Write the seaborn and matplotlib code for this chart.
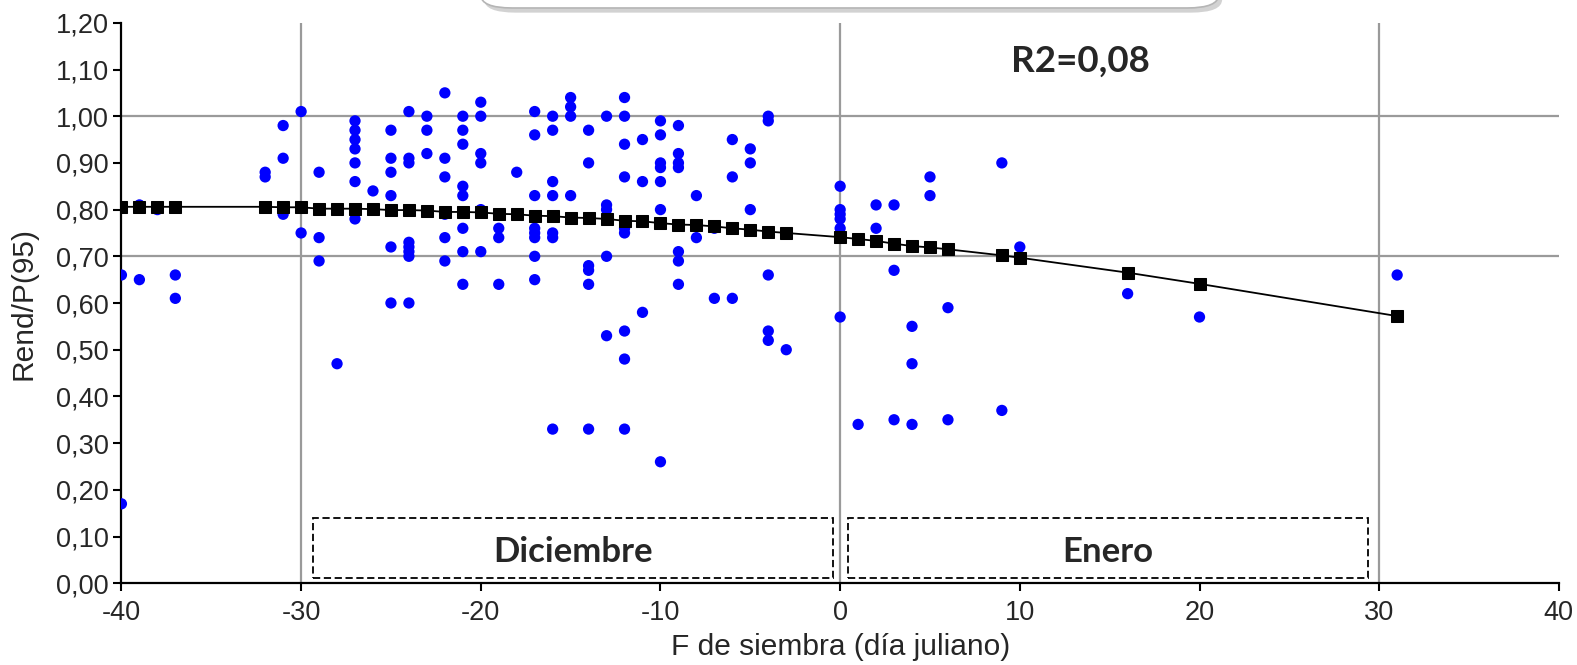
import matplotlib
matplotlib.use("Agg")
import matplotlib.pyplot as plt
import matplotlib.ticker as mticker
from matplotlib.patches import Rectangle, FancyBboxPatch
import seaborn as sns
import pandas as pd

# observed points: sowing day (julian, relative) -> yield / P(95)
obs = {
    -40: [0.66, 0.17],
    -39: [0.81, 0.65],
    -38: [0.80],
    -37: [0.66, 0.61],
    -32: [0.88, 0.87],
    -31: [0.98, 0.91, 0.79],
    -30: [1.01, 0.75],
    -29: [0.88, 0.74, 0.69],
    -28: [0.47],
    -27: [0.99, 0.97, 0.95, 0.93, 0.90, 0.86, 0.78],
    -26: [0.84],
    -25: [0.97, 0.91, 0.88, 0.83, 0.72, 0.60],
    -24: [1.01, 0.91, 0.90, 0.73, 0.72, 0.71, 0.70, 0.60],
    -23: [1.00, 0.97, 0.92],
    -22: [1.05, 0.91, 0.87, 0.79, 0.74, 0.69],
    -21: [1.00, 0.97, 0.94, 0.85, 0.83, 0.76, 0.71, 0.64],
    -20: [1.03, 1.00, 0.92, 0.90, 0.80, 0.71],
    -19: [0.76, 0.74, 0.64],
    -18: [0.88],
    -17: [1.01, 0.96, 0.83, 0.76, 0.75, 0.74, 0.70, 0.65],
    -16: [1.00, 0.97, 0.86, 0.83, 0.75, 0.74, 0.33],
    -15: [1.04, 1.02, 1.00, 0.83],
    -14: [0.97, 0.90, 0.68, 0.67, 0.64, 0.33],
    -13: [1.00, 0.81, 0.80, 0.70, 0.53],
    -12: [1.04, 1.00, 0.94, 0.87, 0.76, 0.75, 0.54, 0.48, 0.33],
    -11: [0.95, 0.86, 0.58],
    -10: [0.99, 0.96, 0.90, 0.89, 0.86, 0.80, 0.26],
    -9: [0.98, 0.92, 0.90, 0.89, 0.71, 0.69, 0.64],
    -8: [0.83, 0.74],
    -7: [0.76, 0.61],
    -6: [0.95, 0.87, 0.61],
    -5: [0.93, 0.90, 0.80],
    -4: [1.00, 0.99, 0.66, 0.54, 0.52],
    -3: [0.50],
    0: [0.85, 0.80, 0.79, 0.78, 0.76, 0.57],
    1: [0.34],
    2: [0.81, 0.76],
    3: [0.81, 0.67, 0.35],
    4: [0.72, 0.55, 0.47, 0.34],
    5: [0.87, 0.83],
    6: [0.59, 0.35],
    9: [0.90, 0.70, 0.37],
    10: [0.72],
    16: [0.62],
    20: [0.57],
    31: [0.66],
}

# fitted curve, read at each sowing day
fit_days = [-40, -39, -38, -37, -32, -31, -30, -29, -28, -27, -26, -25, -24,
            -23, -22, -21, -20, -19, -18, -17, -16, -15, -14, -13, -12, -11,
            -10, -9, -8, -7, -6, -5, -4, -3, 0, 1, 2, 3, 4, 5, 6, 9, 10, 16,
            20, 31]
fit_vals = [0.806, 0.806, 0.806, 0.806, 0.806, 0.805, 0.805, 0.802, 0.802,
            0.802, 0.801, 0.799, 0.799, 0.798, 0.795, 0.795, 0.794, 0.791,
            0.790, 0.787, 0.786, 0.783, 0.782, 0.780, 0.776, 0.775, 0.771,
            0.768, 0.767, 0.764, 0.760, 0.757, 0.753, 0.750, 0.741, 0.737,
            0.733, 0.727, 0.722, 0.719, 0.715, 0.702, 0.697, 0.665, 0.641,
            0.572]

r2_label = "R2=0,08"
months = ["Diciembre", "Enero"]

df_obs = pd.DataFrame([(d, v) for d, vals in obs.items() for v in vals],
                      columns=["dia", "rend"])
df_fit = pd.DataFrame({"dia": fit_days, "rend": fit_vals})

sns.set_style("ticks")
plt.rcParams["font.family"] = ["Liberation Sans", "DejaVu Sans"]
plt.rcParams["axes.unicode_minus"] = False

fig = plt.figure(figsize=(15.77, 6.65), dpi=100)
ax = fig.add_axes([0.0770, 0.123, 0.9115, 0.8427])

for xv in (-30, 0, 30):
    ax.axvline(xv, color="#9a9a9a", lw=1.6, zorder=0)
for yv in (0.70, 1.00):
    ax.axhline(yv, color="#9a9a9a", lw=1.6, zorder=0)

sns.scatterplot(data=df_obs, x="dia", y="rend", ax=ax, color="#0000ff",
                s=66, edgecolor="none", zorder=3)
sns.lineplot(data=df_fit, x="dia", y="rend", ax=ax, color="black", lw=1.3,
             marker="s", markersize=8, markeredgecolor="black", zorder=4)

ax.set_xlim(-40, 40)
ax.set_ylim(0, 1.2)
ax.set_xticks(range(-40, 41, 10))
ax.set_yticks([i / 10 for i in range(13)])
ax.yaxis.set_major_formatter(mticker.FuncFormatter(lambda v, p: f"{v:.2f}".replace(".", ",")))
ax.tick_params(axis="both", labelsize=19.5, length=6, width=1.5, color="black", pad=3)
ax.tick_params(axis="x", pad=6)
for s in ("top", "right"):
    ax.spines[s].set_visible(False)
for s in ("left", "bottom"):
    ax.spines[s].set_linewidth(1.6)
    ax.spines[s].set_color("black")

ax.set_xlabel("F de siembra (día juliano)", fontsize=21.5, labelpad=5)
ax.set_ylabel("Rend/P(95)", fontsize=21.5, labelpad=13)

# month boxes
for (x0, x1), name in zip([(-29.34, -0.4), (0.43, 29.37)], months):
    ax.add_patch(Rectangle((x0, 0.011), x1 - x0, 0.129, fill=False, ls=(0, (4, 2)),
                           lw=1.3, ec="black", zorder=2))
    ax.text((x0 + x1) / 2, 0.045, name, ha="center", va="baseline", fontsize=25,
            fontweight="bold", family=["Lato", "DejaVu Sans"])

ax.text(13.4, 1.095, r2_label, ha="center", va="baseline", fontsize=26.5,
        fontweight="bold", family=["Lato", "DejaVu Sans"])

# clipped rounded box at the top edge
shadow = FancyBboxPatch((0.307, 0.981), 0.468, 0.1, boxstyle="round,pad=0,rounding_size=0.02",
                        transform=fig.transFigure, fc="#d2d2d2", ec="none", zorder=0)
box = FancyBboxPatch((0.3048, 0.988), 0.468, 0.1, boxstyle="round,pad=0,rounding_size=0.02",
                     transform=fig.transFigure, fc="white", ec="#b5b5b5", lw=1.2, zorder=1)
fig.patches.extend([shadow, box])

fig.savefig("out.png", dpi=100)
